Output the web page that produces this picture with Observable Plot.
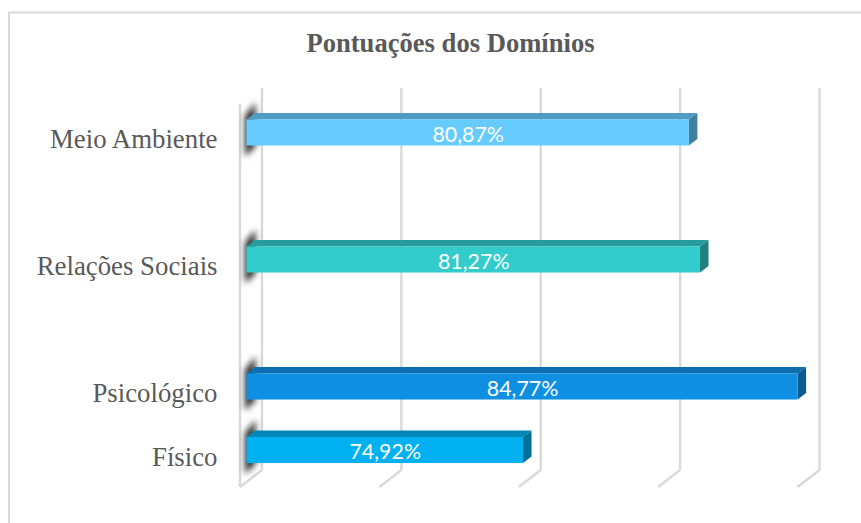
<!DOCTYPE html>
<html lang="pt">
<head>
<meta charset="utf-8">
<script src="https://cdn.jsdelivr.net/npm/d3@7"></script>
<script src="https://cdn.jsdelivr.net/npm/@observablehq/plot@0.6"></script>
<style>
html,body{margin:0;padding:0;background:#fff;overflow:hidden}
#wrap{position:relative;width:861px;height:523px}
#title{position:absolute;left:0;width:901px;top:28px;text-align:center;font:bold 26.6px "Liberation Serif",serif;color:#595959}
svg{display:block}
</style>
</head>
<body>
<div id="wrap"><div id="title">Pontuações dos Domínios</div></div>
<script>
const categories = ["Meio Ambiente", "Relações Sociais", "Psicológico", "Físico"];
const values = [80.87, 81.27, 84.77, 74.92];
const bandOrder = ["Meio Ambiente", " ", "Relações Sociais", "  ", "Psicológico", "Físico"];
const gridTicks = [65, 70, 75, 80, 85];
const frontColors = ["#66CCFF", "#33CCCC", "#0F8FE2", "#00B0F0"];
const topColors = ["#4F9BC3", "#279C9C", "#0C6EAD", "#0087B8"];
const sideColors = ["#3F7F9F", "#1F8080", "#0A5B8F", "#006F98"];

const rows = categories.map((c, i) => ({c, v: values[i], i}));
const axisMin = gridTicks[0];
const fmt = v => v.toFixed(2).replace(".", ",") + "%";
const depthX = 8.5, depthY = 6.5;

const svgNode = (tag, attrs, parent) => {
  const el = document.createElementNS("http://www.w3.org/2000/svg", tag);
  for (const k in attrs) el.setAttribute(k, attrs[k]);
  if (parent) parent.appendChild(el);
  return el;
};

const chartBorder = () => {
  const g = svgNode("g", {});
  svgNode("path", {d: "M9 523V12.5H861", fill: "none", stroke: "#d9d9d9", "stroke-width": 2}, g);
  return g;
};

const floorLines = (index, {x}) => {
  const g = svgNode("g", {stroke: "#d9d9d9", "stroke-width": 2.4, fill: "none"});
  for (const v of gridTicks) {
    svgNode("path", {d: `M${x(v) + 15.5} 470L${x(v) - 6.5} 487`}, g);
  }
  return g;
};

const wallShadows = (index, {x, y}) => {
  const g = svgNode("g", {fill: "#2a2a2a", style: "filter:blur(3.2px)"});
  const x0 = x(axisMin);
  for (const r of rows) {
    const t = y(r.c), b = t + y.bandwidth();
    svgNode("path", {d: `M${x0 - 1.5} ${t - 4}L${x0 + 9} ${t - 17}V${b + 1}L${x0 - 1.5} ${b + 11}Z`}, g);
  }
  return g;
};

const barFaces = (index, {x, y}) => {
  const g = svgNode("g", {});
  for (const r of rows) {
    const x0 = x(axisMin), x1 = x(r.v), t = y(r.c), b = t + y.bandwidth();
    svgNode("path", {fill: topColors[r.i], d: `M${x0} ${t}L${x0 + depthX} ${t - depthY}H${x1 + depthX}L${x1} ${t}Z`}, g);
    svgNode("path", {fill: sideColors[r.i], d: `M${x1} ${t}L${x1 + depthX} ${t - depthY}V${b - depthY}L${x1} ${b}Z`}, g);
  }
  return g;
};

const chart = Plot.plot({
  width: 861,
  height: 523,
  marginLeft: 246,
  marginRight: 57,
  marginTop: 0,
  marginBottom: 0,
  style: {background: "transparent"},
  x: {domain: [axisMin, gridTicks[gridTicks.length - 1]], range: [246.5, 804], axis: null},
  y: {domain: bandOrder, range: [82, 500.5], padding: 0.59, round: false, axis: null},
  marks: [
    chartBorder,
    Plot.ruleX(gridTicks, {x: d => d, dx: 15, insetTop: 88, insetBottom: 53, stroke: "#d9d9d9", strokeWidth: 2.4}),
    Plot.ruleX([axisMin], {x: d => d, dx: -7, insetTop: 104, insetBottom: 36, stroke: "#d9d9d9", strokeWidth: 2.4}),
    floorLines,
    wallShadows,
    barFaces,
    Plot.barX(rows, {x1: () => axisMin, x2: "v", y: "c", fill: d => frontColors[d.i]}),
    Plot.text(rows, {x: d => (axisMin + d.v) / 2, y: "c", text: d => fmt(d.v), fill: "#fff", fontFamily: "Lato", fontSize: 21.4, dy: 2}),
    Plot.axisY(categories, {
      anchor: "left", tickSize: 0, tickPadding: 29, label: null, dy: 6.5,
      fontFamily: "Liberation Serif", fontSize: 26.8, color: "#595959", fill: "#595959"
    })
  ]
});
document.getElementById("wrap").prepend(chart);
</script>
</body>
</html>
